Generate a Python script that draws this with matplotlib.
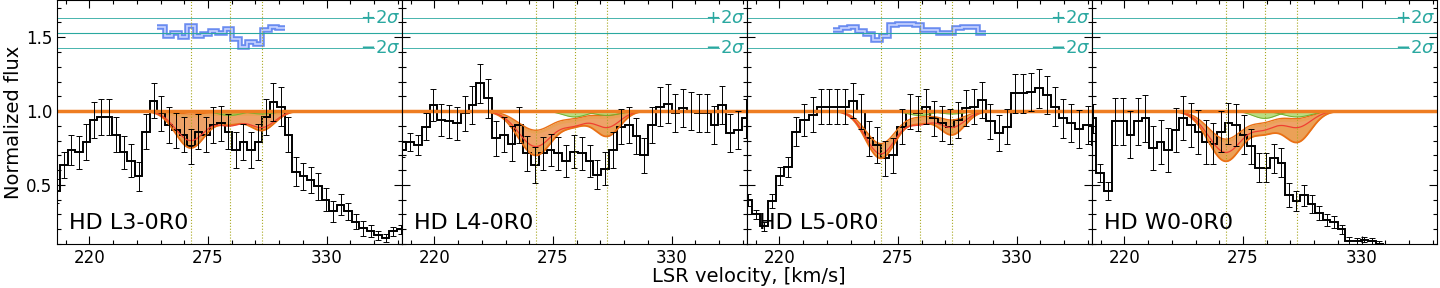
import numpy as np
import matplotlib
matplotlib.use("Agg")
import matplotlib.pyplot as plt
from matplotlib.ticker import MultipleLocator

# panel names
names = ["HD L3-0R0", "HD L4-0R0", "HD L5-0R0", "HD W0-0R0"]

# spectrum bins: first edge and bin width (km/s) per panel
bin_start = [202.94, 203.28, 203.5, 203.5]
bin_width = [3.47, 3.62, 3.75, 3.5]

flux_p1 = [0.46, 0.635, 0.737, 0.72, 0.79, 0.94, 0.96, 0.96, 0.84, 0.72, 0.665, 0.557,
           0.86, 1.07, 0.985, 0.905, 0.87, 0.84, 0.76, 0.86, 0.84, 0.905, 0.917, 0.86,
           0.737, 0.79, 0.737, 0.79, 0.96, 1.06, 1.03, 0.84, 0.59, 0.557, 0.534, 0.49,
           0.40, 0.32, 0.365, 0.32, 0.25, 0.207, 0.185, 0.16, 0.14, 0.185, 0.2]
flux_p2 = [0.737, 0.79, 0.77, 0.895, 1.04, 0.94, 0.93, 0.917, 0.985, 1.04, 1.187, 1.085,
           0.815, 0.84, 0.78, 0.905, 0.714, 0.635, 0.714, 0.737, 0.714, 0.66, 0.725, 0.714,
           0.66, 0.57, 0.61, 0.737, 0.895, 0.905, 0.83, 0.70, 0.905, 1.03, 1.05, 0.985,
           1.02, 1.0, 0.985, 0.985, 0.905, 1.04, 0.85, 0.87, 0.95]
flux_p3 = [0.40, 0.30, 0.22, 0.39, 0.56, 0.62, 0.86, 0.94, 0.975, 1.03, 1.03, 1.03,
           1.03, 1.07, 0.995, 0.815, 0.77, 0.68, 0.70, 0.895, 0.995, 0.985, 1.03, 0.95,
           0.917, 0.895, 0.94, 1.02, 1.03, 1.076, 0.93, 0.85, 0.895, 1.12, 1.12, 1.13,
           1.153, 1.108, 1.03, 0.95, 0.917, 0.877, 0.905, 0.77]
flux_p4 = [0.95, 0.58, 0.46, 0.93, 0.93, 0.84, 0.93, 0.95, 0.75, 0.79, 0.737, 0.87,
           0.955, 0.905, 0.86, 0.79, 0.78, 0.86, 0.917, 0.905, 0.84, 0.76, 0.617, 0.617,
           0.68, 0.65, 0.43, 0.39, 0.43, 0.37, 0.31, 0.26, 0.25, 0.20, 0.12, 0.12,
           0.13, 0.12, 0.10, 0.05, 0.05, 0.05, 0.05, 0.05, 0.05, 0.05]

err_p1 = [0.08, 0.09, 0.1, 0.11, 0.12, 0.12, 0.12, 0.12, 0.12, 0.11, 0.11, 0.1,
          0.12, 0.12, 0.12, 0.12, 0.12, 0.12, 0.12, 0.12, 0.12, 0.12, 0.12, 0.12,
          0.12, 0.12, 0.12, 0.12, 0.12, 0.13, 0.13, 0.12, 0.1, 0.09, 0.09, 0.09,
          0.08, 0.07, 0.07, 0.06, 0.05, 0.05, 0.04, 0.03, 0.03, 0.03, 0.03]
err_p2 = [0.05, 0.06, 0.07, 0.09, 0.11, 0.11, 0.11, 0.11, 0.12, 0.13, 0.13, 0.13,
          0.12, 0.12, 0.12, 0.12, 0.12, 0.12, 0.11, 0.11, 0.11, 0.11, 0.11, 0.11,
          0.11, 0.1, 0.11, 0.12, 0.12, 0.12, 0.12, 0.12, 0.12, 0.13, 0.13, 0.13,
          0.13, 0.13, 0.13, 0.13, 0.13, 0.13, 0.13, 0.13, 0.13]
err_p3 = [0.04, 0.03, 0.03, 0.05, 0.06, 0.07, 0.1, 0.11, 0.12, 0.12, 0.12, 0.12,
          0.12, 0.12, 0.12, 0.12, 0.12, 0.12, 0.12, 0.12, 0.12, 0.12, 0.12, 0.12,
          0.12, 0.12, 0.12, 0.12, 0.12, 0.12, 0.12, 0.12, 0.12, 0.13, 0.13, 0.13,
          0.13, 0.13, 0.13, 0.13, 0.13, 0.13, 0.13, 0.13]
err_p4 = [0.1, 0.06, 0.06, 0.16, 0.16, 0.16, 0.16, 0.16, 0.15, 0.15, 0.15, 0.15,
          0.15, 0.15, 0.15, 0.15, 0.14, 0.14, 0.14, 0.14, 0.13, 0.12, 0.1, 0.1,
          0.1, 0.1, 0.08, 0.07, 0.07, 0.06, 0.05, 0.04, 0.04, 0.03, 0.03, 0.02,
          0.02, 0.02, 0.02, 0.01, 0.01, 0.01, 0.01, 0.01, 0.01, 0.01]

fluxes = [flux_p1, flux_p2, flux_p3, flux_p4]
errors = [err_p1, err_p2, err_p3, err_p4]

# residuals (only panels 1 and 3), first bin index where they start
res_p1 = [1.57, 1.51, 1.53, 1.50, 1.577, 1.51, 1.52, 1.54, 1.53, 1.555, 1.49, 1.435,
          1.47, 1.455, 1.55, 1.57, 1.565]
res_p3 = [1.547, 1.56, 1.57, 1.54, 1.52, 1.48, 1.51, 1.58, 1.59, 1.59, 1.58, 1.55,
          1.55, 1.53, 1.53, 1.56, 1.57, 1.57, 1.53]
res_first = [14, None, 11, None]
residuals = [res_p1, None, res_p3, None]
res_center = 1.527
res_2sig = 0.101

# absorption components (km/s)
comp_v = [267.0, 285.0, 300.0]
comp_sig = [[7.0, 5.5, 6.0], [8.0, 5.5, 6.0], [7.0, 5.5, 6.0], [8.0, 5.5, 6.5]]
depth_low = [[0.25, 0.08, 0.13], [0.30, 0.08, 0.17], [0.32, 0.07, 0.16], [0.34, 0.12, 0.21]]
depth_up = [[0.02, 0.01, 0.01], [0.13, 0.04, 0.03], [0.22, 0.03, 0.06], [0.19, 0.06, 0.05]]
depth_best = [[0.20, 0.09, 0.11], [0.24, 0.08, 0.11], [0.29, 0.08, 0.11], [0.28, 0.10, 0.11]]
depth_green = [[0.01, 0.03, 0.02], [0.01, 0.04, 0.03], [0.01, 0.03, 0.02], [0.01, 0.05, 0.04]]

xlim = (205, 365)
ylim = (0.1, 1.75)

fig, axes = plt.subplots(1, 4, figsize=(14.4, 2.88), dpi=100, sharey=True)
fig.subplots_adjust(left=0.0396, right=0.998, bottom=0.153, top=0.999, wspace=0)

vv = np.linspace(xlim[0], xlim[1], 800)


def model(depths, sigs):
    m = np.ones_like(vv)
    for c, d, s in zip(comp_v, depths, sigs):
        m -= d * np.exp(-0.5 * ((vv - c) / s) ** 2)
    return m


for i, ax in enumerate(axes):
    f = np.array(fluxes[i])
    e = np.array(errors[i])
    edges = bin_start[i] + bin_width[i] * np.arange(len(f) + 1)
    mid = 0.5 * (edges[:-1] + edges[1:])

    # sigma lines for residuals
    ax.axhline(res_center, color="#2aa8a0", lw=0.8)
    ax.plot([xlim[0], 352], [res_center + res_2sig] * 2, color="#2aa8a0", lw=0.6)
    ax.plot([xlim[0], 352], [res_center - res_2sig] * 2, color="#2aa8a0", lw=0.6)
    ax.text(0.995, (res_center + res_2sig - ylim[0]) / (ylim[1] - ylim[0]), r"$+2\sigma$",
            transform=ax.transAxes, ha="right", va="center", color="#2aa8a0", fontsize=13)
    ax.text(0.995, (res_center - res_2sig - ylim[0]) / (ylim[1] - ylim[0]), r"$-2\sigma$",
            transform=ax.transAxes, ha="right", va="center", color="#2aa8a0", fontsize=13)

    for c in comp_v:
        ax.axvline(c, color="#a8a820", lw=0.8, ls=":")

    lo = model(depth_low[i], comp_sig[i])
    up = model(depth_up[i], comp_sig[i])
    best = model(depth_best[i], comp_sig[i])
    ax.fill_between(vv, lo, up, color="#e8913a", alpha=0.85, lw=0)
    ax.plot(vv, lo, color="#ea7015", lw=1.3)
    ax.plot(vv, up, color="#ea7015", lw=1.0)
    ax.fill_between(vv, best, np.maximum(best, up - 0.02), color="#f6a58a", alpha=0.35, lw=0)
    ax.plot(vv, best, color="#f04030", lw=0.9)
    for c, d, s in zip(comp_v, depth_green[i], comp_sig[i]):
        g = 1 - d * np.exp(-0.5 * ((vv - c) / s) ** 2)
        ax.fill_between(vv, g, 1, color="#9ad050", alpha=0.7, lw=0)
        ax.plot(vv, g, color="#70b030", lw=0.7)
    ax.axhline(1.0, color="#ee7d22", lw=2.5)

    ax.errorbar(mid, f, yerr=e, fmt="none", ecolor="black", elinewidth=0.7, capsize=2, capthick=0.7)
    ax.stairs(f, edges, color="black", lw=1.4, baseline=None)

    if residuals[i] is not None:
        r = np.array(residuals[i])
        j0 = res_first[i]
        redges = edges[j0:j0 + len(r) + 1]
        ax.stairs(r, redges, color="#6a8cf0", lw=4.0, baseline=None)
        ax.stairs(r, redges, color="#c8d4ff", lw=1.2, baseline=None)

    ax.text(0.035, 0.045, names[i], transform=ax.transAxes, fontsize=16, ha="left", va="bottom")

    ax.set_xlim(*xlim)
    ax.set_ylim(*ylim)
    ax.set_xticks([220, 275, 330])
    ax.xaxis.set_minor_locator(MultipleLocator(11))
    ax.yaxis.set_major_locator(MultipleLocator(0.5))
    ax.yaxis.set_minor_locator(MultipleLocator(0.1))
    ax.tick_params(which="both", direction="in", top=True, right=True, labelsize=12)
    ax.tick_params(which="major", length=6, width=0.8)
    ax.tick_params(which="minor", length=3, width=0.8)

axes[0].set_ylabel("Normalized flux", fontsize=14, labelpad=2)
fig.text(0.52, 0.04, "LSR velocity, [km/s]", ha="center", va="center", fontsize=14)

fig.savefig("out.png", dpi=100)
